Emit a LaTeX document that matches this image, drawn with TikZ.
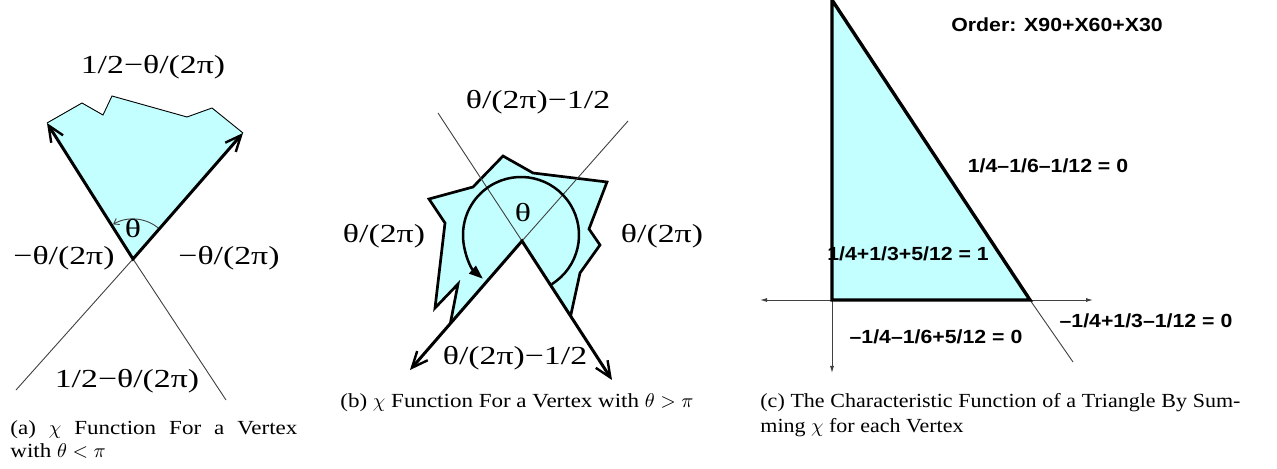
\documentclass[tikz,border=0pt]{standalone}
\usepackage{fontspec}
\setmainfont{Liberation Serif}
\newfontfamily\labfont[FakeStretch=1.3]{Liberation Serif}
\newfontfamily\capfont[FakeStretch=1.15]{Liberation Serif}
\newfontfamily\capcfont[FakeStretch=1.1]{Liberation Serif}
\newfontfamily\sanslab[FakeStretch=1.12]{Liberation Sans}
\usetikzlibrary{arrows.meta,calc}
\definecolor{fillc}{RGB}{196,255,255}
\begin{document}
\begin{tikzpicture}[x=0.5pt,y=0.5pt,
  lab/.style={inner sep=0pt,font=\fontsize{13}{15}\labfont},
  slab/.style={inner sep=0pt,font=\fontsize{9.5}{11}\sanslab\bfseries},
  captxt/.style={inner sep=0pt,anchor=base west,font=\fontsize{10}{12}\capfont},
  captxtc/.style={inner sep=0pt,anchor=base west,font=\fontsize{10}{12}\capcfont},
  thinl/.style={line width=0.45pt,black!75},
  bigarrows/.style={line width=1.5pt,line join=miter,
    {Straight Barb[length=8pt,width=7pt,line width=1.2pt]}-{Straight Barb[length=8pt,width=7pt,line width=1.2pt]}},
  outl/.style={line width=1.35pt,line join=miter}
]
\useasboundingbox (0,0) rectangle (1277,-469);

% ---------------- panel (a) ----------------
\coordinate (Va) at (133,-259);
\coordinate (La) at (47,-123);
\coordinate (Ra) at (243,-133);
\coordinate (LLa) at (16,-390);
\coordinate (LRa) at (226,-400);
\coordinate (a1) at (82,-103);
\coordinate (a2) at (103,-115);
\coordinate (a3) at (112,-96);
\coordinate (a4) at (187,-117);
\coordinate (a5) at (212,-108);
\fill[fillc] (Va) -- (La) -- (a1) -- (a2) -- (a3) -- (a4) -- (a5) -- (Ra) -- cycle;
\draw[thinl,black] (La) -- (a1) -- (a2) -- (a3) -- (a4) -- (a5) -- (Ra);
\draw[thinl] (Va) -- (LLa);
\draw[thinl] (Va) -- (LRa);
\draw[thinl,-{Straight Barb[length=2.5pt,width=3.5pt]}] ($(Va)+(48.8:20pt)$) coordinate (arcAs)
  arc[start angle=48.8,end angle=120,radius=20pt];
\draw[bigarrows] (La) -- (Va) -- (Ra);
\node[lab] (ta) at (153,-67) {1/2−θ/(2π)};
\node[lab] (la) at (64,-258) {−θ/(2π)};
\node[lab] (ra) at (229,-258) {−θ/(2π)};
\node[lab] (ba) at (127,-381) {1/2−θ/(2π)};
\node[lab] (tha) at (133,-229) {θ};
\node[captxt] (capa1) at (10,-434) {\makebox[143.5pt][s]{(a) $\chi$ Function For a Vertex}};
\node[captxt] (capa2) at (10,-457) {with $\theta<\pi$};

% ---------------- panel (b) ----------------
\coordinate (Vb) at (522,-241);
\coordinate (Lb) at (410,-370);
\coordinate (Rb) at (612,-380);
\coordinate (ULb) at (438,-113);
\coordinate (URb) at (628,-121);
\coordinate (b0) at ($(Vb)!0.64!(Lb)$);
\coordinate (b1) at (458,-284);
\coordinate (b2) at (435,-308);
\coordinate (b3) at (445,-223);
\coordinate (b4) at (429,-199);
\coordinate (b5) at (473,-187);
\coordinate (b6) at (503,-156);
\coordinate (b7) at (533,-173);
\coordinate (b8) at (607,-182);
\coordinate (b9) at (589,-229);
\coordinate (b10) at (600,-245);
\coordinate (b11) at (580,-273);
\coordinate (b12) at ($(Vb)!0.54!(Rb)$);
\fill[fillc] (Vb) -- (b0) -- (b1) -- (b2) -- (b3) -- (b4) -- (b5) -- (b6) -- (b7) -- (b8) -- (b9) -- (b10) -- (b11) -- (b12) -- cycle;
\draw[outl] (b0) -- (b1) -- (b2) -- (b3) -- (b4) -- (b5) -- (b6) -- (b7) -- (b8) -- (b9) -- (b10) -- (b11) -- (b12);
\draw[thinl] (Vb) -- (ULb);
\draw[thinl] (Vb) -- (URb);
\coordinate (Cb) at (521,-235);
\draw[line width=1.25pt,-{Triangle[length=7pt,width=5pt]}] ($(Cb)+(-58:29pt)$) coordinate (arcBs)
  arc[start angle=-58,end angle=229,radius=29pt];
\draw[bigarrows] (Lb) -- (Vb) -- (Rb);
\node[lab] (tb) at (538,-102) {θ/(2π)−1/2};
\node[lab] (lb) at (384,-236) {θ/(2π)};
\node[lab] (rb) at (662,-236) {θ/(2π)};
\node[lab] (bb) at (515,-358) {θ/(2π)−1/2};
\node[lab] (thb) at (523,-213) {θ};
\node[captxt] (capb) at (340,-408) {(b) $\chi$ Function For a Vertex with $\theta>\pi$};

% ---------------- panel (c) ----------------
\coordinate (A) at (832,0);
\coordinate (B) at (832,-300);
\coordinate (C) at (1030,-300);
\coordinate (AxL) at (760,-300);
\coordinate (AxR) at (1093,-300);
\coordinate (AxD) at (832,-373);
\coordinate (Ext) at (1073,-362);
\fill[fillc] (A) -- (B) -- (C) -- cycle;
\draw[thinl,{Latex[length=3.5pt,width=2pt]}-{Latex[length=3.5pt,width=2pt]}] (AxL) -- (AxR);
\draw[thinl,-{Latex[length=3.5pt,width=2pt]}] (B) -- (AxD);
\draw[thinl] (C) -- (Ext);
\node[slab] (order) at (1057,-25) {Order: X90+X60+X30};
\node[slab] (l1) at (1048,-166) {1/4–1/6–1/12 = 0};
\node[slab] (l2) at (908,-254) {1/4+1/3+5/12 = 1};
\node[slab] (l3) at (936,-337) {–1/4–1/6+5/12 = 0};
\node[slab] (l4) at (1146,-321) {–1/4+1/3–1/12 = 0};
\draw[line width=1.7pt,line join=miter] (A) -- (B) -- (C) -- cycle;
\node[captxtc] (capc1) at (760,-408) {\makebox[240pt][s]{(c) The Characteristic Function of a Triangle By Sum-}};
\node[captxtc] (capc2) at (760,-432) {ming $\chi$ for each Vertex};
\end{tikzpicture}
\end{document}
